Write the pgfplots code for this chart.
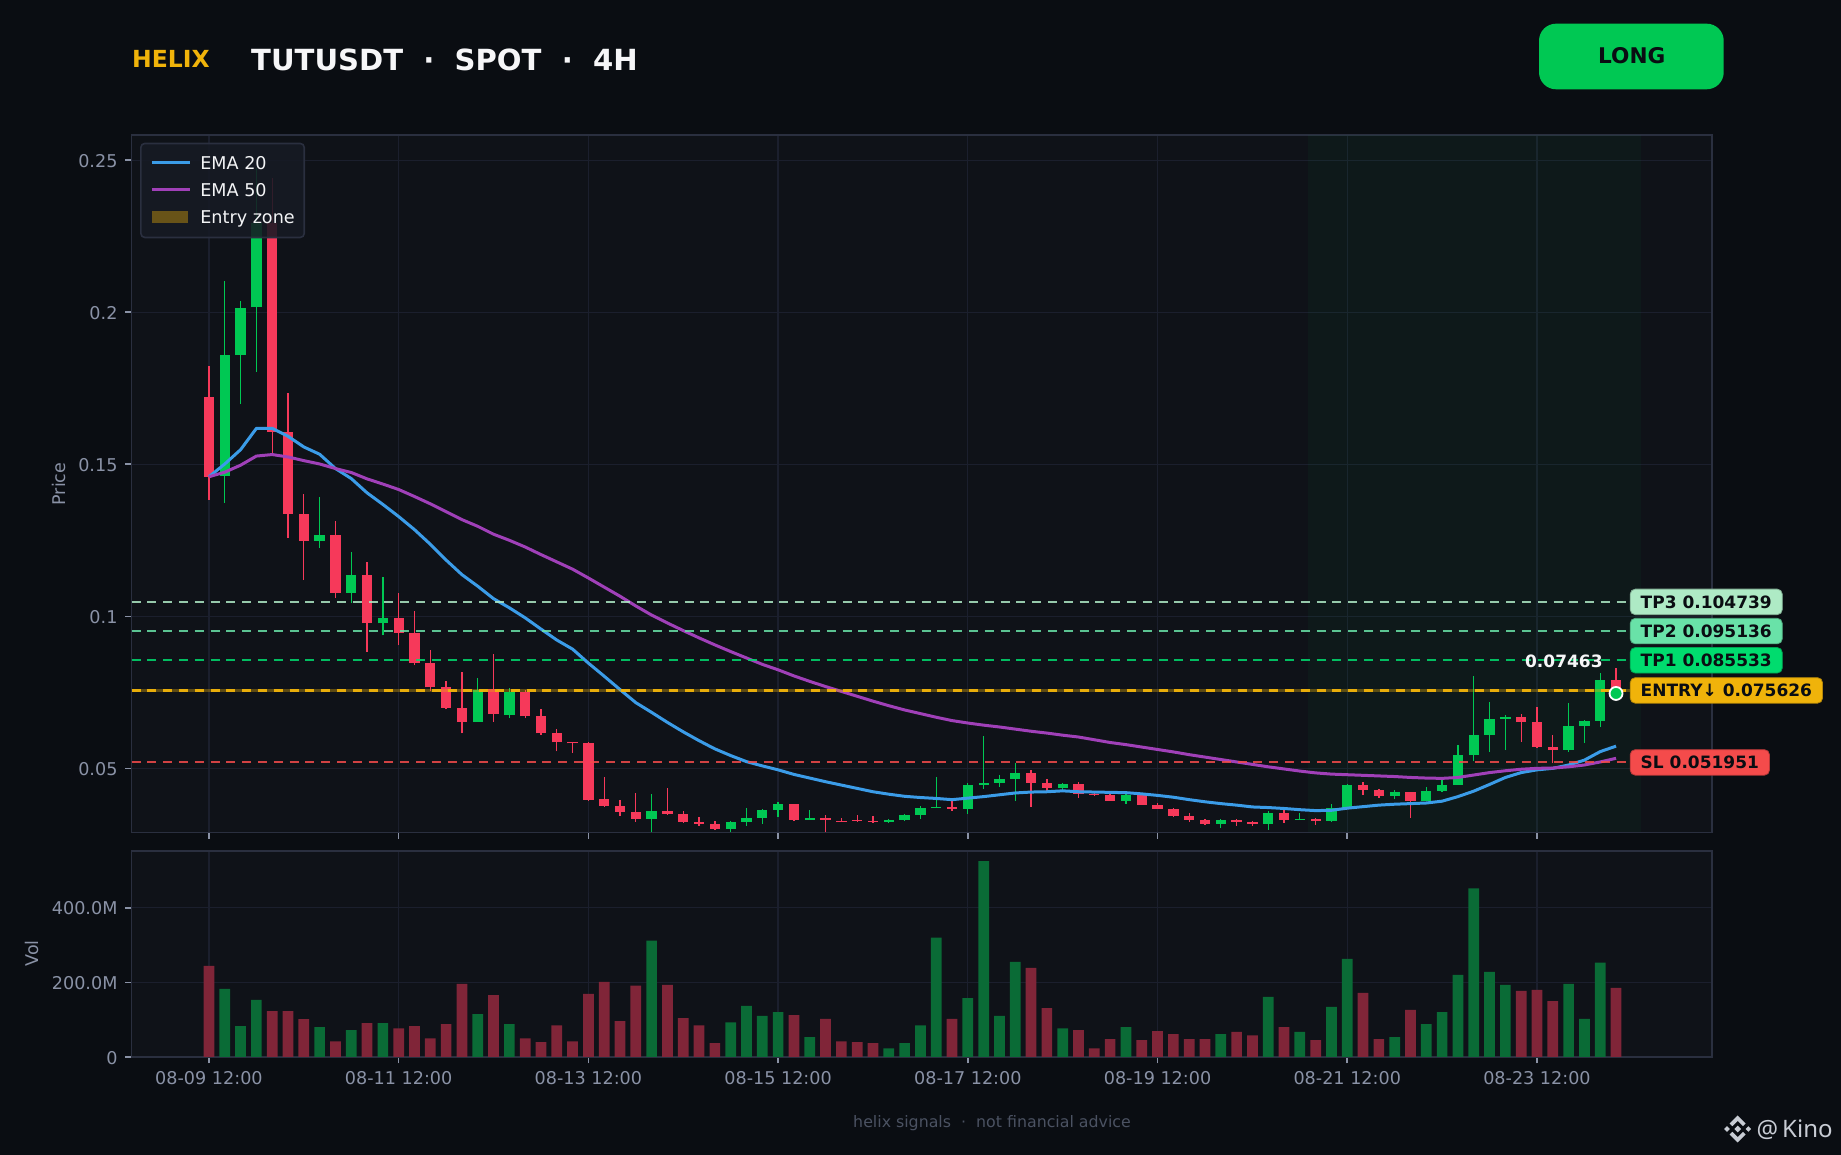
\documentclass[border=0pt]{standalone}
\usepackage{pgfplots}
\usepackage{pgfplotstable}
\pgfplotsset{compat=1.18}
\usepackage{fontspec}
\setmainfont{DejaVu Sans}
\newfontfamily\wmfont{Noto Sans}
\newcommand{\fs}[1]{\fontsize{#1}{#1}\selectfont}
\definecolor{bg}{HTML}{0A0D12}
\definecolor{panel}{HTML}{0F1218}
\definecolor{spine}{HTML}{2A2F3F}
\definecolor{gridc}{HTML}{1B1F2D}
\definecolor{tickc}{HTML}{8A92A6}
\definecolor{up}{HTML}{00C853}
\definecolor{down}{HTML}{F6395A}
\definecolor{volup}{HTML}{0A6B36}
\definecolor{voldown}{HTML}{802538}
\definecolor{emaa}{HTML}{3B9CE8}
\definecolor{emab}{HTML}{A040B8}
\definecolor{entry}{HTML}{F0B30A}
\definecolor{tpa}{HTML}{00DC6E}
\definecolor{tpb}{HTML}{69E2A8}
\definecolor{tpc}{HTML}{AEEAC5}
\definecolor{sl}{HTML}{F44B4B}
\definecolor{ink}{HTML}{0A0D12}
\definecolor{wm}{HTML}{C8CCD4}
\definecolor{legbg}{HTML}{161A24}
\definecolor{footc}{HTML}{4B5262}
\pgfplotstableread{
i lo hi wl wh v
1 .1462 .1860 .1374 .2102 182.5
2 .1860 .2014 .1698 .2037 83
3 .2016 .2295 .1803 .2473 153
7 .1249 .1267 .1226 .1394 80
9 .1078 .1135 .1043 .1210 72
11 .0977 .0995 .0937 .1129 91
17 .0654 .0756 .0653 .0797 115
19 .0677 .0750 .0665 .0765 88
28 .0334 .0360 .0291 .0416 312
33 .0301 .0324 .0291 .0327 93
34 .0324 .0337 .0311 .0370 137
35 .0337 .0363 .0317 .0367 110
36 .0363 .0383 .0340 .0390 120
38 .0331 .0337 .0331 .0363 53
43 .0324 .0331 .0321 .0334 23
44 .0331 .0347 .0327 .0350 37
45 .0347 .0370 .0334 .0377 85
46 .0371 .0373 .0371 .0472 320
48 .0367 .0445 .0350 .0451 158
49 .0445 .0452 .0432 .0606 525
50 .0452 .0465 .0439 .0478 110
51 .0465 .0485 .0393 .0517 255
54 .0436 .0449 .0429 .0453 77
58 .0393 .0413 .0383 .0416 80
64 .0317 .0331 .0304 .0334 61
67 .0317 .0354 .0298 .0360 161
69 .0331 .0334 .0331 .0354 67
71 .0327 .0370 .0324 .0383 134
72 .0370 .0445 .0370 .0449 263
75 .0409 .0422 .0399 .0429 53
77 .0393 .0426 .0393 .0439 88
78 .0426 .0445 .0422 .0462 120
79 .0445 .0544 .0445 .0577 220
80 .0544 .0610 .0524 .0804 452
81 .0610 .0662 .0554 .0718 228
82 .0663 .0669 .0560 .0675 193
86 .0560 .0639 .0554 .0714 196
87 .0639 .0656 .0583 .0659 102
88 .0656 .0791 .0636 .0814 253
}\uptable
\pgfplotstableread{
i lo hi wl wh v
0 .1459 .1722 .1383 .1822 244.5
4 .1607 .2295 .1527 .2443 123
5 .1338 .1606 .1258 .1736 123
6 .1249 .1337 .1120 .1403 101.6
8 .1078 .1267 .1061 .1315 42
10 .0977 .1135 .0883 .1179 91
12 .0946 .0995 .0904 .1076 77
13 .0846 .0945 .0839 .1016 83
14 .0766 .0845 .0753 .0889 50
15 .0700 .0766 .0694 .0786 88
16 .0654 .0700 .0615 .0816 196
18 .0680 .0760 .0654 .0877 166
20 .0671 .0750 .0665 .0756 50
21 .0615 .0671 .0610 .0694 40
22 .0585 .0615 .0556 .0629 85
23 .0582 .0585 .0551 .0585 42
24 .0397 .0582 .0393 .0585 169
25 .0377 .0398 .0374 .0472 201
26 .0357 .0377 .0344 .0396 96
27 .0334 .0357 .0324 .0419 191
29 .0350 .0360 .0347 .0436 193
30 .0324 .0350 .0321 .0360 104
31 .0317 .0324 .0311 .0340 85
32 .0301 .0317 .0298 .0327 37
37 .0331 .0383 .0327 .0383 112
39 .0331 .0337 .0291 .0347 102
40 .0326 .0327 .0324 .0337 42
41 .0327 .0331 .0324 .0347 40
42 .0324 .0327 .0321 .0344 37
47 .0367 .0373 .0360 .0393 102
52 .0452 .0485 .0373 .0495 239
53 .0436 .0452 .0426 .0465 131
55 .0416 .0449 .0403 .0455 72
56 .0413 .0416 .0409 .0424 23
57 .0393 .0413 .0393 .0416 48
59 .0380 .0413 .0380 .0413 45
60 .0367 .0380 .0367 .0386 69
61 .0344 .0367 .0340 .0370 61
62 .0331 .0344 .0324 .0354 48
63 .0317 .0331 .0314 .0334 48
65 .0324 .0331 .0311 .0334 67
66 .0317 .0324 .0311 .0326 58
68 .0331 .0354 .0321 .0363 80
70 .0327 .0334 .0314 .0337 45
73 .0429 .0445 .0413 .0455 172
74 .0409 .0429 .0403 .0432 48
76 .0393 .0422 .0337 .0422 126
83 .0652 .0669 .0587 .0679 177
84 .0570 .0652 .0567 .0702 180
85 .0560 .0570 .0516 .0610 150
89 .07463 .0791 .0746 .0830 185
}\downtable
\pgfplotstableread{
i a b
0 .1459 .1459
1 .1501 .1474
2 .1548 .1497
3 .1618 .1527
4 .1618 .1532
5 .1592 .1524
6 .1557 .1512
7 .1533 .1501
8 .1486 .1486
9 .1453 .1473
10 .1406 .1452
11 .1368 .1435
12 .1328 .1417
13 .1285 .1394
14 .1237 .1370
15 .1185 .1344
16 .1137 .1318
17 .1099 .1296
18 .1058 .1270
19 .1028 .1250
20 .0995 .1228
21 .0958 .1203
22 .0922 .1179
23 .0892 .1155
24 .0846 .1126
25 .0803 .1096
26 .0759 .1066
27 .0716 .1034
28 .0684 .1004
29 .0651 .0978
30 .0620 .0953
31 .0591 .0929
32 .0564 .0906
33 .0542 .0884
34 .0522 .0863
35 .0508 .0842
36 .0495 .0824
37 .0480 .0804
38 .0468 .0786
39 .0456 .0769
40 .0445 .0753
41 .0434 .0737
42 .0423 .0721
43 .0415 .0706
44 .0408 .0692
45 .0404 .0680
46 .0401 .0668
47 .0397 .0657
48 .0402 .0649
49 .0407 .0642
50 .0413 .0636
51 .0419 .0629
52 .0422 .0622
53 .0423 .0616
54 .0426 .0609
55 .0423 .0603
56 .0422 .0594
57 .0421 .0585
58 .0420 .0578
59 .0416 .0570
60 .0411 .0562
61 .0405 .0554
62 .0397 .0545
63 .0390 .0537
64 .0384 .0529
65 .0379 .0521
66 .0373 .0513
67 .0371 .0505
68 .0368 .0498
69 .0364 .0491
70 .0361 .0485
71 .0362 .0481
72 .0369 .0479
73 .0374 .0477
74 .0379 .0475
75 .0382 .0473
76 .0384 .0470
77 .0386 .0468
78 .0392 .0467
79 .0407 .0470
80 .0425 .0478
81 .0447 .0486
82 .0470 .0492
83 .0486 .0497
84 .0495 .0500
85 .0500 .0501
86 .0511 .0505
87 .0527 .0511
88 .0555 .0521
89 .0573 .0533
}\ematable
\pgfplotsset{
  panelaxis/.style={
    scale only axis, width=1580.5pt,
    xmin=-4.90, xmax=95.07,
    axis background/.style={fill=panel},
    axis line style={draw=spine,line width=1.8pt},
    xtick={0,12,24,36,48,60,72,84},
    grid=both, grid style={draw=gridc,line width=1.25pt},
    tick style={draw=tickc,line width=1.6pt},
    tick align=outside, major tick length=6.5pt,
    xtick pos=bottom, ytick pos=left,
    tick label style={text=tickc,font=\fs{17.6}},
    yticklabel style={xshift=-4pt,yshift=-0.8pt},
    xticklabel style={yshift=-4.3pt},
    minor tick num=0,
  },
  wick/.style={forget plot,mark=none,draw=#1,line width=1.3pt,line cap=butt,
    quiver={u=0,v=\thisrow{wh}-\thisrow{wl}}},
  cbody/.style={forget plot,mark=none,draw=#1,line width=10.3pt,line cap=butt,
    quiver={u=0,v=\thisrow{hi}-\thisrow{lo}}},
  hline/.style={forget plot,draw=#1,draw opacity=.85,line width=2.1pt,dash pattern=on 9pt off 6.8pt},
}
\tikzset{
  lvl/.style={anchor=west,fill=#1,draw=#1!75!black,line width=.8pt,rounded corners=5pt,text=ink,
    font=\bfseries\fs{17},inner xsep=10.5pt,inner ysep=0pt,minimum height=25.5pt,text height=12.4pt,text depth=0pt},
}
\begin{document}
\begin{tikzpicture}[x=1pt,y=1pt]
\path[use as bounding box,fill=bg] (0,0) rectangle (1841,1155);
\begin{axis}[panelaxis,at={(131.5pt,322.5pt)},anchor=south west,height=697.5pt,
  ymin=.0289,ymax=.2583,clip=false,
  ytick={.05,.1,.15,.2,.25},yticklabels={0.05,0.1,0.15,0.2,0.25},
  xticklabels={},
  legend cell align=left,
  legend style={at={(0.0054,0.989)},anchor=north west,fill=legbg,fill opacity=.88,draw opacity=1,text opacity=1,
    draw=spine,line width=1.6pt,rounded corners=4pt,text=white!90!tickc,font=\fs{17.6},
    inner xsep=9.5pt,inner ysep=6.5pt,row sep=0pt,
    nodes={inner sep=0pt,text height=19.5pt,text depth=7.5pt}},
]
\addplot[forget plot,fill=up,fill opacity=.045,draw=none] coordinates {(69.5,.0289) (90.6,.0289) (90.6,.2583) (69.5,.2583)} --cycle;
\addplot[wick=up] table[x=i,y=wl] {\uptable};
\addplot[wick=down] table[x=i,y=wl] {\downtable};
\addplot[cbody=up] table[x=i,y=lo] {\uptable};
\addplot[cbody=down] table[x=i,y=lo] {\downtable};
\addplot[draw=emaa,line width=3pt,line join=round,legend image code/.code={\path[draw=none,fill=none] (0pt,0pt) -- (48.5pt,0pt);\draw[draw=emaa,line width=3pt,sharp corners] (0pt,0.7pt) -- (38pt,0.7pt);}] table[x=i,y=a] {\ematable};
\addlegendentry{EMA 20}
\addplot[draw=emab,line width=3pt,line join=round,legend image code/.code={\path[draw=none,fill=none] (0pt,0pt) -- (48.5pt,0pt);\draw[draw=emab,line width=3pt,sharp corners] (0pt,0.7pt) -- (38pt,0.7pt);}] table[x=i,y=b] {\ematable};
\addlegendentry{EMA 50}
\addplot[fill=entry,fill opacity=.35,draw=none,legend image code/.code={\path[draw=none,fill=none] (0pt,0pt) -- (48.5pt,0pt);\fill[fill=entry,fill opacity=.38,draw=none,sharp corners] (0.5pt,-5.3pt) rectangle (36.5pt,6.7pt);}] coordinates {(-4.9,.0750) (95.07,.0750) (95.07,.0762) (-4.9,.0762)} --cycle;
\addlegendentry{Entry zone}
\addplot[hline=tpc] coordinates {(-4.9,.104739) (89.87,.104739)};
\addplot[hline=tpb] coordinates {(-4.9,.095136) (89.87,.095136)};
\addplot[hline=tpa] coordinates {(-4.9,.085533) (89.87,.085533)};
\addplot[hline=entry,line width=2.9pt,draw opacity=.95] coordinates {(-4.9,.075626) (89.87,.075626)};
\addplot[hline=sl,draw opacity=.85] coordinates {(-4.9,.051951) (89.87,.051951)};
\addplot[forget plot,only marks,mark=*,mark size=6.5pt,mark options={fill=up,draw=white,line width=1.8pt}] coordinates {(89,.07463)};
\node[lvl=tpc] at (axis cs:89.87,.104739) {TP3 0.104739};
\node[lvl=tpb] at (axis cs:89.87,.095136) {TP2 0.095136};
\node[lvl=tpa] at (axis cs:89.87,.085533) {TP1 0.085533};
\node[lvl=entry] at (axis cs:89.87,.075626) {ENTRY↓ 0.075626};
\node[lvl=sl] at (axis cs:89.87,.051951) {SL 0.051951};
\node[text=white!92!tickc,font=\bfseries\fs{17},inner sep=0pt] at (axis cs:85.7,.0851) {0.07463};
\end{axis}
\begin{axis}[panelaxis,at={(131.5pt,98pt)},anchor=south west,height=206pt,
  ymin=0,ymax=552,
  ytick={0,200,400},yticklabels={0,200.0M,400.0M},
  xticklabels={08-09 12:00,08-11 12:00,08-13 12:00,08-15 12:00,08-17 12:00,08-19 12:00,08-21 12:00,08-23 12:00},
]
\addplot[ybar,bar width=10.7pt,fill=volup,draw=none] table[x=i,y=v] {\uptable};
\addplot[ybar,bar width=10.7pt,fill=voldown,draw=none] table[x=i,y=v] {\downtable};
\end{axis}
% header
\node[anchor=base west,inner sep=0pt,text=entry,font=\bfseries\fs{23.5}] at (132,1087.3) {HELIX};
\node[anchor=base west,inner sep=0pt,text=white!92!tickc,font=\bfseries\fs{29.1}] at (251,1084) {TUTUSDT\ \ ·\ \ SPOT\ \ ·\ \ 4H};
\fill[fill=up,rounded corners=17pt] (1539,1065.7) rectangle (1723.7,1131.3);
\node[text=ink,font=\bfseries\fs{21.6},inner sep=0pt] at (1631.7,1099.5) {LONG};
% axis titles
\node[rotate=90,text=tickc,font=\fs{17.5},inner sep=0pt] at (58.7,671) {Price};
\node[rotate=90,text=tickc,font=\fs{17.5},inner sep=0pt] at (32,201.5) {Vol};
% footer
\node[text=footc,font=\fs{15.8},inner sep=0pt] at (992,32) {helix signals\ \ ·\ \ not financial advice};
% watermark
\begin{scope}[shift={(1737.7,26)},fill=wm]
\fill (-3.4,0) -- (0,3.4) -- (3.4,0) -- (0,-3.4) -- cycle;
\fill (-13.5,0) -- (-10.7,2.8) -- (-7.9,0) -- (-10.7,-2.8) -- cycle;
\fill (13.5,0) -- (10.7,2.8) -- (7.9,0) -- (10.7,-2.8) -- cycle;
\fill (0,13.5) -- (8,5.5) -- (5.3,2.8) -- (0,8.1) -- (-5.3,2.8) -- (-8,5.5) -- cycle;
\fill (0,-13.5) -- (8,-5.5) -- (5.3,-2.8) -- (0,-8.1) -- (-5.3,-2.8) -- (-8,-5.5) -- cycle;
\end{scope}
\node[anchor=base west,text=wm,font=\wmfont\fs{24},inner sep=0pt] at (1756.5,17.7) {@};
\node[anchor=base west,text=wm,font=\wmfont\fs{24},inner sep=0pt] at (1782,17.7) {Kino};
\end{tikzpicture}
\end{document}
